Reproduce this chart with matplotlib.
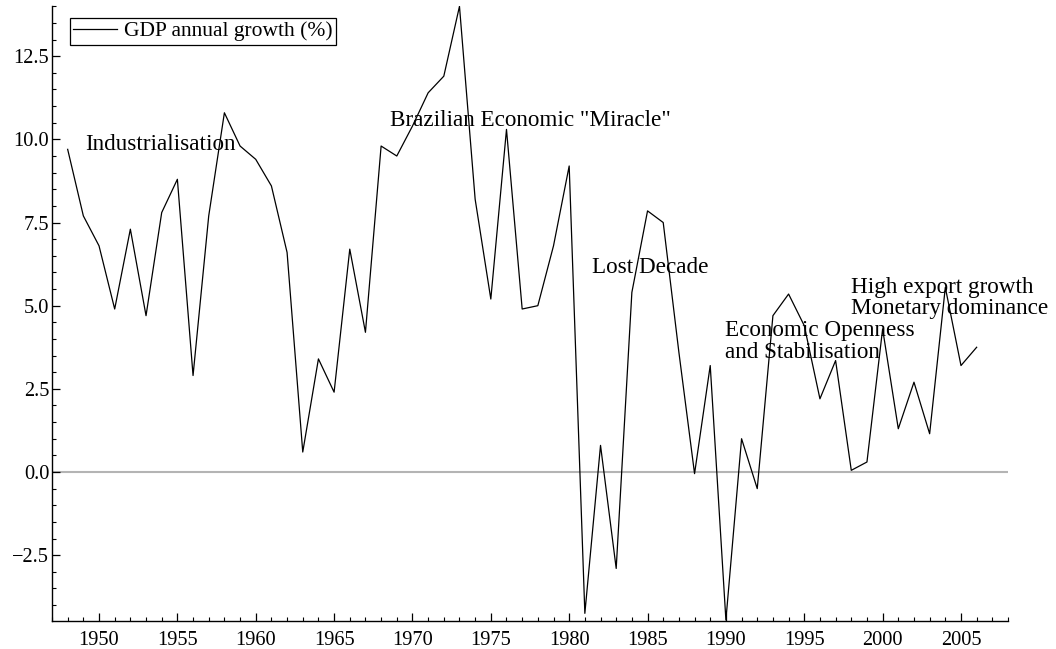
import matplotlib.pyplot as plt
from matplotlib.ticker import MultipleLocator
import numpy as np

# Brazil GDP annual growth (%), 1948-2006
years = list(range(1948, 2007))
gdp_growth = [9.7, 7.7, 6.8, 4.9, 7.3, 4.7, 7.8, 8.8, 2.9, 7.7,
              10.8, 9.8, 9.4, 8.6, 6.6, 0.6, 3.4, 2.4, 6.7, 4.2,
              9.8, 9.5, 10.4, 11.4, 11.9, 14.0, 8.2, 5.2, 10.3, 4.9,
              5.0, 6.8, 9.2, -4.25, 0.8, -2.9, 5.4, 7.85, 7.5, 3.6,
              -0.05, 3.2, -4.45, 1.0, -0.5, 4.7, 5.35, 4.4, 2.2, 3.35,
              0.05, 0.3, 4.3, 1.3, 2.7, 1.15, 5.55, 3.2, 3.75]

# period labels: (text, x, baseline y)
labels = [('Industrialisation', 1949.1, 9.67),
          ('Brazilian Economic "Miracle"', 1968.55, 10.39),
          ('Lost Decade', 1981.45, 5.98),
          ('Economic Openness', 1989.95, 4.09),
          ('and Stabilisation', 1989.95, 3.42),
          ('High export growth', 1998.0, 5.39),
          ('Monetary dominance', 1998.0, 4.75)]

plt.rcParams['font.family'] = ['Liberation Serif', 'DejaVu Serif']

fig = plt.figure(figsize=(10.56, 6.49), dpi=100)
ax = fig.add_axes([52/1056, 1-621/649, (1008-52)/1056, (621-6)/649])

ax.axhline(0, color='#b4b4b4', lw=1.5, zorder=1)
ax.plot(years, gdp_growth, color='black', lw=0.9, label='GDP annual growth (%)', zorder=2)

for txt, x, y in labels:
    ax.text(x, y, txt, fontsize=16.7, va='baseline', ha='left')

ax.set_xlim(1947, 2008)
ax.set_ylim(min(gdp_growth) - 0.03, max(gdp_growth) + 0.01)

ax.xaxis.set_major_locator(MultipleLocator(5))
ax.xaxis.set_minor_locator(MultipleLocator(1))
ax.yaxis.set_major_locator(MultipleLocator(2.5))
ax.yaxis.set_minor_locator(MultipleLocator(0.5))

ax.spines['top'].set_visible(False)
ax.spines['right'].set_visible(False)
for s in ['left', 'bottom']:
    ax.spines[s].set_linewidth(1.0)
ax.tick_params(which='both', direction='in', labelsize=14.7)
ax.tick_params(which='major', length=6, width=0.9)
ax.tick_params(which='minor', length=2.8, width=0.8)
ax.tick_params(axis='x', pad=7)
ax.tick_params(axis='y', pad=2)

leg = ax.legend(loc='upper left', bbox_to_anchor=(0.0188, 0.9805), borderaxespad=0,
                fontsize=15.5, frameon=True, fancybox=False, framealpha=1,
                borderpad=0.15, handlelength=2.05, handletextpad=0.3)
leg.get_frame().set_edgecolor('black')
leg.get_frame().set_linewidth(0.9)

fig.savefig('out.png', dpi=100)
